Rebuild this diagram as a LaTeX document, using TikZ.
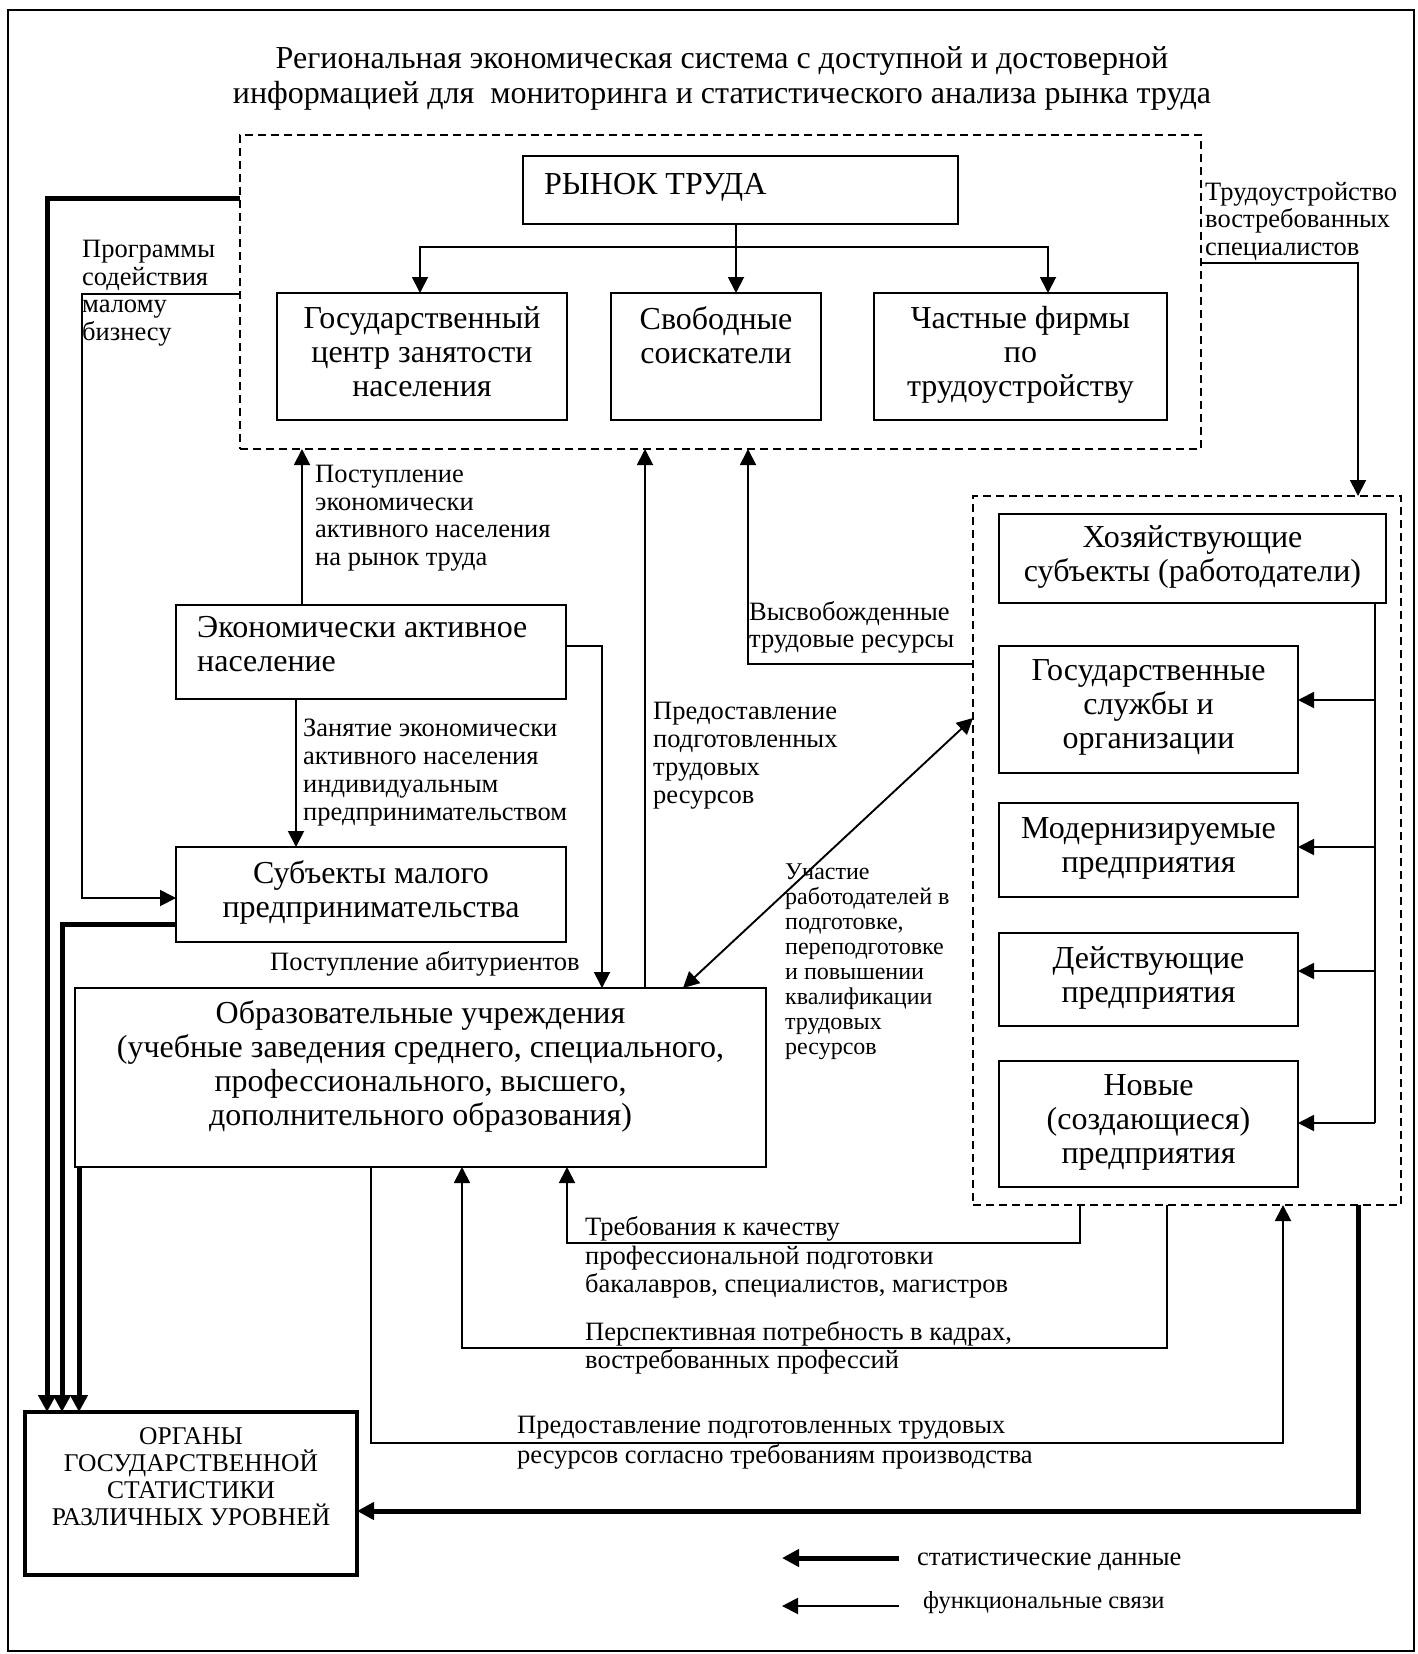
\documentclass[tikz,border=0pt]{standalone}
\usepackage{fontspec}
\setmainfont{Liberation Serif}
\usetikzlibrary{arrows.meta}
\begin{document}
\begin{tikzpicture}[x=1pt,y=-1pt,
  box/.style={draw, line width=1.8pt, inner sep=0pt, outer sep=0pt},
  dbox/.style={draw, line width=1.5pt, dash pattern=on 8pt off 5pt, inner sep=0pt, outer sep=0pt},
  obox/.style={draw, line width=4pt, inner sep=0pt, outer sep=0pt},
  btxt/.style={font=\fontsize{32}{34}\selectfont, align=center, inner sep=0pt,
    execute at begin node={\rule{0pt}{\dimexpr0.7\baselineskip+5pt\relax}}, execute at end node=\strut},
  ltxt/.style={font=\fontsize{26.5}{27.5}\selectfont, align=left, inner sep=0pt, anchor=north west,
    execute at begin node={\rule{0pt}{\dimexpr0.7\baselineskip+2pt\relax}}, execute at end node=\strut},
  stxt/.style={ltxt, font=\fontsize{24}{25}\selectfont},
  tip/.style={-{Triangle[length=16pt,width=16pt]}},
  fl/.style={line width=1.9pt, tip},
  fln/.style={line width=1.9pt},
  dbl/.style={line width=1.9pt, {Triangle[length=16pt,width=16pt]}-{Triangle[length=16pt,width=16pt]}},
  tl/.style={line width=5pt, -{Triangle[length=17pt,width=17pt]}},
]
\fill[white] (0,0) rectangle (1417,1654);
\useasboundingbox (0,0) rectangle (1417,1654);
\draw[line width=1.6pt] (8,10) rectangle (1414,1651);

% title
\node[btxt, font=\fontsize{32}{35}\selectfont, anchor=north] (title) at (722,46)
  {Региональная экономическая система с доступной и достоверной\\информацией для\ \ мониторинга и статистического анализа рынка труда};

% dashed groups
\node[dbox, minimum width=961pt, minimum height=314pt] (market) at (720.5,292) {};
\node[dbox, minimum width=428pt, minimum height=709pt] (emp) at (1187,850.5) {};

% labour market
\node[box, minimum width=435pt, minimum height=68pt] (rynok) at (740.5,190) {};
\node[btxt, anchor=north west] (rynokt) at (544,165) {РЫНОК ТРУДА};
\node[box, btxt, minimum width=290pt, minimum height=127pt] (gcz) at (422,356.5) {Государственный\\центр занятости\\населения};
\node[box, minimum width=210pt, minimum height=127pt] (svob) at (716,356.5) {};
\node[btxt] (svobt) at (716,340) {Свободные\\соискатели};
\node[box, btxt, minimum width=293pt, minimum height=127pt] (chast) at (1020.5,356.5) {Частные фирмы\\по\\трудоустройству};

% employers
\node[box, btxt, minimum width=387pt, minimum height=89pt] (hoz) at (1192.5,558.5) {Хозяйствующие\\субъекты (работодатели)};
\node[box, btxt, minimum width=299pt, minimum height=127pt] (gsl) at (1148.5,709.5) {Государственные\\службы и\\организации};
\node[box, btxt, minimum width=299pt, minimum height=94pt] (mod) at (1148.5,850) {Модернизируемые\\предприятия};
\node[box, btxt, minimum width=299pt, minimum height=93pt] (dey) at (1148.5,979.5) {Действующие\\предприятия};
\node[box, btxt, minimum width=299pt, minimum height=126pt] (nov) at (1148.5,1124) {Новые\\(создающиеся)\\предприятия};

% left column
\node[box, minimum width=390pt, minimum height=94pt] (eap) at (371,652) {};
\node[btxt, align=left, anchor=north west] (eapt) at (197,616) {Экономически активное\\население};
\node[box, btxt, minimum width=390pt, minimum height=95pt] (smp) at (371,894.5) {Субъекты малого\\предпринимательства};
\node[box, minimum width=691pt, minimum height=179pt] (obr) at (420.5,1077.5) {};
\node[btxt] (obrt) at (420.5,1068) {Образовательные учреждения\\(учебные заведения среднего, специального,\\профессионального, высшего,\\дополнительного образования)};
\node[obox, minimum width=332pt, minimum height=163pt] (org) at (191,1493.5) {};
\node[btxt, font=\fontsize{25.5}{27}\selectfont] (orgt) at (191,1481) {ОРГАНЫ\\ГОСУДАРСТВЕННОЙ\\СТАТИСТИКИ\\РАЗЛИЧНЫХ УРОВНЕЙ};

% labels
\node[ltxt] (prog) at (82,240) {Программы\\содействия\\малому\\бизнесу};
\node[ltxt] (post) at (315,465) {Поступление\\экономически\\активного населения\\на рынок труда};
\node[ltxt] (trud) at (1205,182) {Трудоустройство\\востребованных\\специалистов};
\node[ltxt] (vysv) at (749,601) {Высвобожденные\\трудовые ресурсы};
\node[ltxt, font=\fontsize{26.5}{28}\selectfont] (pred) at (653,702) {Предоставление\\подготовленных\\трудовых\\ресурсов};
\node[ltxt, font=\fontsize{26.5}{28}\selectfont] (zan) at (303,719) {Занятие экономически\\активного населения\\индивидуальным\\предпринимательством};
\node[ltxt] (abit) at (270,949) {Поступление абитуриентов};
\node[stxt] (uch) at (785,864) {Участие\\работодателей в\\подготовке,\\переподготовке\\и повышении\\квалификации\\трудовых\\ресурсов};
\node[ltxt, font=\fontsize{26.5}{28.5}\selectfont] (treb) at (585,1216.5) {Требования к качеству\\профессиональной подготовки\\бакалавров, специалистов, магистров};
\node[ltxt, font=\fontsize{26.5}{28}\selectfont] (persp) at (585,1321) {Перспективная потребность в кадрах,\\востребованных профессий};
\node[ltxt, font=\fontsize{26.5}{30}\selectfont] (sogl) at (517,1415.5) {Предоставление подготовленных трудовых\\ресурсов согласно требованиям производства};

% legend
\node[ltxt] (leg1) at (917,1544) {статистические данные};
\node[ltxt, font=\fontsize{24.5}{26}\selectfont] (leg2) at (923,1588) {функциональные связи};
\coordinate (leg1s) at (899,1558);
\coordinate (leg1e) at (782,1558);
\coordinate (leg2s) at (899,1606);
\coordinate (leg2e) at (782,1606);
\draw[tl] (leg1s) -- (leg1e);
\draw[fl] (leg2s) -- (leg2e);

% connectors inside market
\draw[fl] ([xshift=-4.5pt]rynok.south) -- ([xshift=20pt]svob.north);
\draw[dbl] ([xshift=-2pt]gcz.north) -- ++(0,-46) -| ([xshift=27.5pt]chast.north);

% market -> employers
\draw[fl] ([yshift=29pt]market.east) -| ([xshift=171pt]emp.north);

% employer bus
\draw[fln] ([xshift=182.5pt]hoz.south) -- ([xshift=77pt,yshift=1pt]nov.east);
\draw[fl] ([xshift=77pt,yshift=9.5pt]gsl.east) -- ([yshift=9.5pt]gsl.east);
\draw[fl] ([xshift=77pt,yshift=3pt]mod.east) -- ([yshift=3pt]mod.east);
\draw[fl] ([xshift=77pt,yshift=8.5pt]dey.east) -- ([yshift=8.5pt]dey.east);
\draw[fl] ([xshift=77pt,yshift=1pt]nov.east) -- ([yshift=1pt]nov.east);

% released resources
\draw[fl] ([yshift=186.5pt]emp.west) -| ([xshift=27.5pt]market.south);
% prepared resources
\draw[fl] ([xshift=224.5pt]obr.north) -- ([xshift=-75.5pt]market.south);
% economically active population
\draw[fl] ([xshift=-69pt]eap.north) -- ([xshift=-418.5pt]market.south);
\draw[fl] ([yshift=6pt]eap.east) -| ([xshift=181.5pt]obr.north);
\draw[fl] ([xshift=-75pt]eap.south) -- ([xshift=-75pt]smp.north);
% small business programs
\draw[fl] ([yshift=-2pt]market.west) -- ++(-158,0) |- ([yshift=-3.5pt]smp.west);
% participation (double)
\draw[dbl] ([xshift=262.5pt]obr.north) -- ([yshift=132.5pt]emp.west);

% bottom functional links
\draw[fl] ([xshift=-107pt]emp.south) -- ++(0,38) -| ([xshift=146.5pt]obr.south);
\draw[fl] ([xshift=-20pt]emp.south) -- ++(0,143) -| ([xshift=41.5pt]obr.south);
\draw[fl] ([xshift=-49.5pt]obr.south) -- ++(0,276) -| ([xshift=96pt]emp.south);

% statistical data (thick)
\draw[tl] ([yshift=94pt]market.west) -| ([xshift=-144pt]org.north);
\draw[tl] ([yshift=-29.5pt]smp.west) -| ([xshift=-129pt]org.north);
\draw[tl] ([xshift=-341.5pt]obr.south) -- ([xshift=-112pt]org.north);
\draw[tl] ([xshift=171pt]emp.south) |- ([yshift=-17.5pt]org.east);
\end{tikzpicture}
\end{document}
